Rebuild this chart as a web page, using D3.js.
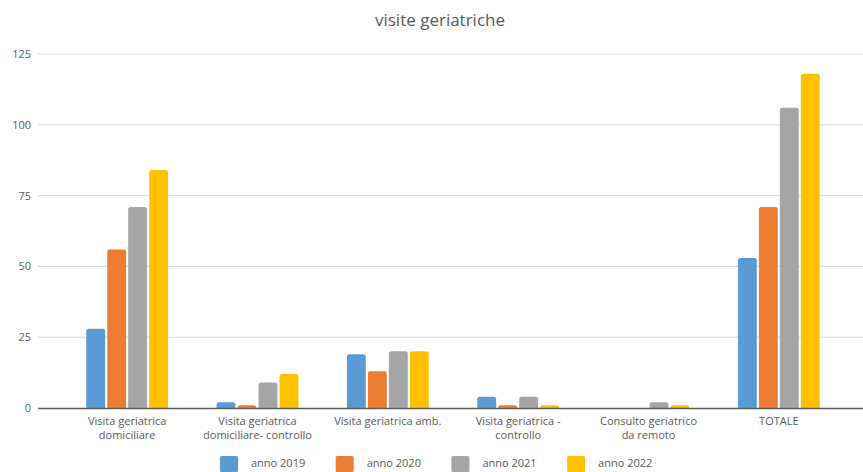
<!DOCTYPE html>
<html>
<head>
<meta charset="utf-8">
<script src="https://cdn.jsdelivr.net/npm/d3@7"></script>
<style>
  body { margin: 0; background: #fff; }
  svg { display: block; font-family: "Open Sans", Lato, sans-serif; }
</style>
</head>
<body>
<div id="chart"></div>
<script>
// chart data
const categories = [
  ["Visita geriatrica", "domiciliare"],
  ["Visita geriatrica", "domiciliare- controllo"],
  ["Visita geriatrica amb."],
  ["Visita geriatrica -", "controllo"],
  ["Consulto geriatrico", "da remoto"],
  ["TOTALE"]
];
const seriesNames = ["anno 2019", "anno 2020", "anno 2021", "anno 2022"];
const anno2019 = [28, 2, 19, 4, 0, 53];
const anno2020 = [56, 1, 13, 1, 0, 71];
const anno2021 = [71, 9, 20, 4, 2, 106];
const anno2022 = [84, 12, 20, 1, 1, 118];
const yTicks = [0, 25, 50, 75, 100, 125];
const colors = ["#5b9bd5", "#ed7d31", "#a5a5a5", "#ffc000"];

const width = 863, height = 472;
const values = [anno2019, anno2020, anno2021, anno2022];

const svg = d3.select("#chart").append("svg")
  .attr("width", width)
  .attr("height", height);

// title
svg.append("text")
  .attr("x", 440).attr("y", 26)
  .attr("text-anchor", "middle")
  .attr("fill", "#595959")
  .style("font-size", "17px")
  .text("visite geriatriche");

const y = d3.scaleLinear().domain([0, 125]).range([408, 54]);
const x0 = d3.scaleBand()
  .domain(d3.range(categories.length))
  .range([62, 844])
  .paddingInner(0.34).paddingOuter(0.17);
const x1 = d3.scaleBand()
  .domain(d3.range(seriesNames.length))
  .range([0, x0.bandwidth()])
  .padding(0.1);

// grid + y labels
const grid = svg.append("g");
yTicks.forEach(t => {
  if (t > 0) {
    grid.append("line")
      .attr("x1", 38).attr("x2", width)
      .attr("y1", y(t)).attr("y2", y(t))
      .attr("stroke", "#d9d9d9").attr("stroke-width", 1);
  }
  grid.append("text")
    .attr("x", 31).attr("y", y(t) + 4)
    .attr("text-anchor", "end")
    .attr("fill", "#595959")
    .style("font-size", "11px")
    .text(t);
});

// bars
const groups = svg.append("g").selectAll("g")
  .data(categories)
  .join("g")
  .attr("transform", (d, i) => `translate(${x0(i)},0)`);

groups.selectAll("path")
  .data((d, i) => values.map((s, k) => ({k, v: s[i]})))
  .join("path")
  .attr("fill", d => colors[d.k])
  .attr("d", d => {
    const bx = x1(d.k), bw = x1.bandwidth();
    const top = y(d.v), base = y(0);
    const h = base - top;
    if (h <= 0) return "";
    const r = Math.min(2.5, h, bw / 2);
    return `M${bx},${base}V${top + r}Q${bx},${top} ${bx + r},${top}` +
      `H${bx + bw - r}Q${bx + bw},${top} ${bx + bw},${top + r}V${base}Z`;
  });

// x axis line
svg.append("line")
  .attr("x1", 38).attr("x2", width)
  .attr("y1", y(0) + 0.5).attr("y2", y(0) + 0.5)
  .attr("stroke", "#595959").attr("stroke-width", 1.3);

// category labels
const labels = svg.append("g").selectAll("text")
  .data(categories)
  .join("text")
  .attr("text-anchor", "middle")
  .attr("fill", "#595959")
  .style("font-size", "11px")
  .attr("transform", (d, i) => `translate(${x0(i) + x0.bandwidth() / 2},425)`);
labels.selectAll("tspan")
  .data(d => d)
  .join("tspan")
  .attr("x", 0)
  .attr("dy", (d, i) => i === 0 ? 0 : 14)
  .text(d => d);

// legend
const legend = svg.append("g").selectAll("g")
  .data(seriesNames)
  .join("g")
  .attr("transform", (d, i) => `translate(${220 + i * 115.7},456)`);
legend.append("rect")
  .attr("width", 18).attr("height", 16)
  .attr("rx", 1.5)
  .attr("fill", (d, i) => colors[i]);
legend.append("text")
  .attr("x", 31).attr("y", 11)
  .attr("fill", "#595959")
  .style("font-size", "11px")
  .text(d => d);
</script>
</body>
</html>
